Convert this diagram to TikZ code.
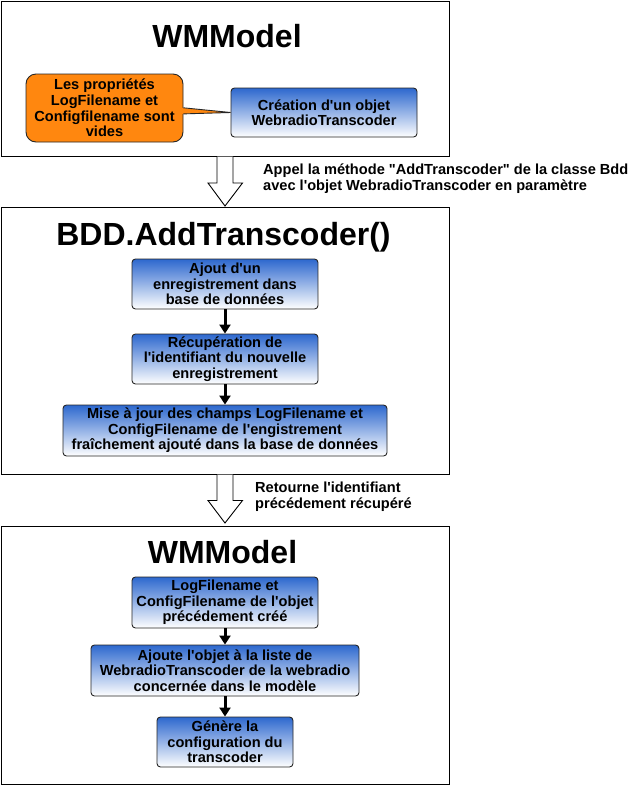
\documentclass[tikz,border=0pt]{standalone}
\usepackage{fontspec}
\setmainfont{Liberation Sans}[Ligatures=TeXOff]
\usetikzlibrary{arrows.meta}
\definecolor{bluetop}{RGB}{45,104,206}
\definecolor{calloutorange}{RGB}{255,135,15}
\tikzset{
  frame/.style={draw=black, line width=1.4pt, fill=white, anchor=north west, inner sep=0pt},
  title/.style={font=\fontsize{32}{34}\selectfont\bfseries, anchor=base, inner sep=0pt},
  stepbox/.style={draw=black!85, line width=0.9pt, rounded corners=3.5pt, top color=bluetop, bottom color=white,
    align=center, inner sep=0pt, font=\fontsize{14.6}{15.4}\selectfont\bfseries},
  callout/.style={draw=black!85, line width=0.9pt, rounded corners=10pt, fill=calloutorange,
    align=center, inner sep=0pt, font=\fontsize{14.6}{15.6}\selectfont\bfseries},
  flow/.style={line width=3pt, -{Triangle[length=9pt,width=11pt]}},
  blockarrow/.style={draw=black, line width=0.9pt, fill=white},
  lbl/.style={align=left, anchor=north west, inner sep=0pt, font=\fontsize{14.6}{16}\selectfont\bfseries}
}
\begin{document}
\begin{tikzpicture}[x=1pt,y=-1pt]
\useasboundingbox (0,0) rectangle (632,785);
% frames
\node[frame, minimum width=448.3pt, minimum height=155.3pt] (f1) at (0.7,0.7) {};
\node[frame, minimum width=448.3pt, minimum height=267pt] (f2) at (0.7,207) {};
\node[frame, minimum width=448.3pt, minimum height=258.6pt] (f3) at (0.7,525.6) {};
% titles
\node[title] (t1) at (227,47) {WMModel};
\node[title] (t2) at (223.5,245) {BDD.AddTranscoder()};
\node[title] (t3) at (222.5,563) {WMModel};
% frame 1
\node[callout, minimum width=157pt, minimum height=68pt] (note) at (104.5,108) {Les propriétés\\LogFilename et\\Configfilename sont\\vides};
\node[stepbox, minimum width=186pt, minimum height=49pt] (b1) at (324,112.5) {Création d'un objet\\WebradioTranscoder};
\coordinate (tip) at (b1.west);
\fill[calloutorange] (181.6,107.8) -- (tip) -- (181.6,113.9) -- cycle;
\draw[black!85, line width=0.9pt] (note.east |- 0,107.8) -- (tip) -- (note.east |- 0,113.9);
% block arrow 1
\draw[blockarrow] (217,156.6) -- (217,183) -- (208,183) -- (225,206) -- (242.5,183) -- (233,183) -- (233,156.6);
\node[lbl] (l1) at (263,164) {Appel la méthode "AddTranscoder" de la classe Bdd\\avec l'objet WebradioTranscoder en paramètre};
% frame 2
\node[stepbox, minimum width=186pt, minimum height=50pt] (a) at (225,284) {Ajout d'un\\enregistrement dans\\base de données};
\node[stepbox, minimum width=186pt, minimum height=50pt] (b) at (225,359) {Récupération de\\l'identifiant du nouvelle\\enregistrement};
\node[stepbox, minimum width=324pt, minimum height=51pt] (c) at (225,430.5) {Mise à jour des champs LogFilename et\\ConfigFilename de l'engistrement\\fraîchement ajouté dans la base de données};
\draw[flow] (a) -- (b);
\draw[flow] (b) -- (c);
% block arrow 2
\draw[blockarrow] (217,474.7) -- (217,500.5) -- (208,500.5) -- (225,523) -- (242.5,500.5) -- (233,500.5) -- (233,474.7);
\node[lbl] (l2) at (255,481.5) {Retourne l'identifiant\\précédement récupéré};
% frame 3
\node[stepbox, minimum width=186pt, minimum height=51pt] (d) at (225,602.5) {LogFilename et\\ConfigFilename de l'objet\\précédement créé};
\node[stepbox, minimum width=268pt, minimum height=51pt] (e) at (225,670.5) {Ajoute l'objet à la liste de\\WebradioTranscoder de la webradio\\concernée dans le modèle};
\node[stepbox, minimum width=136pt, minimum height=50pt] (g) at (225,742) {Génère la\\configuration du\\transcoder};
\draw[flow] (d) -- (e);
\draw[flow] (e) -- (g);
\end{tikzpicture}
\end{document}
